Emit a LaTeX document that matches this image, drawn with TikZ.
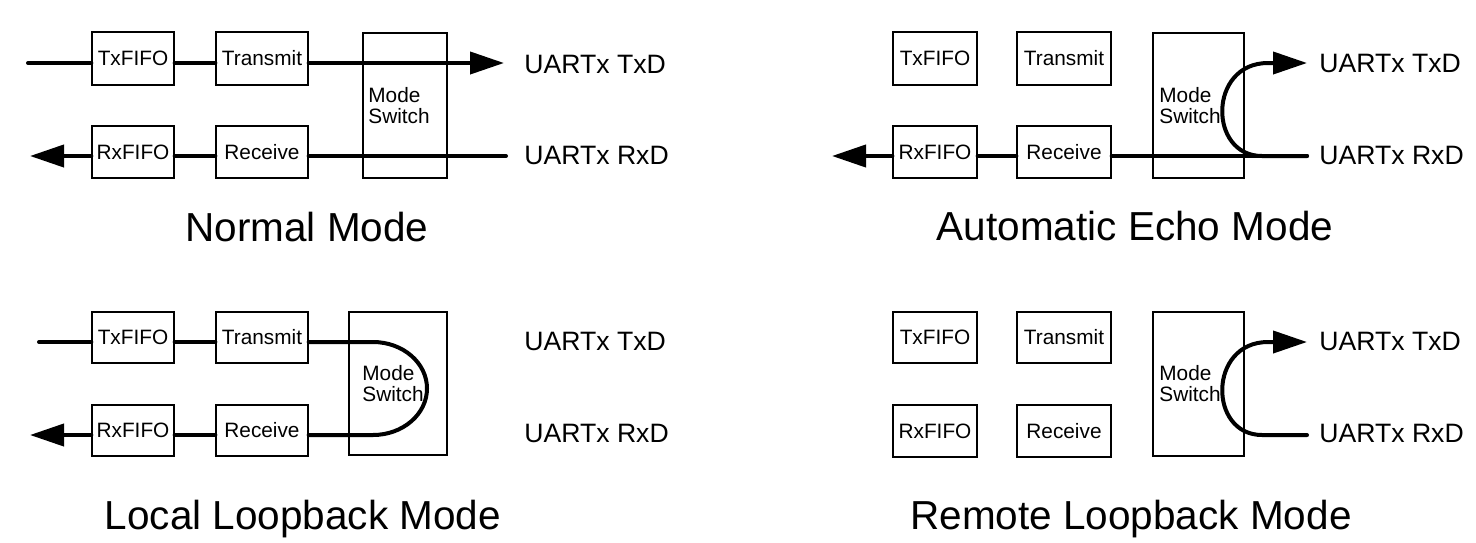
\documentclass[tikz,border=0pt]{standalone}
\usepackage{fontspec}
\setmainfont{Liberation Sans}
\usetikzlibrary{arrows.meta}
\begin{document}
\begin{tikzpicture}[x=0.5pt,y=-0.5pt,
  blk/.style={draw,line width=0.65pt,fill=white,inner sep=0pt,font=\fontsize{10.4pt}{10.5pt}\selectfont},
  msw/.style={draw,line width=0.65pt,inner sep=0pt},
  mtxt/.style={anchor=west,align=left,inner sep=0pt,font=\fontsize{10.4pt}{10.5pt}\selectfont},
  wire/.style={line width=2pt,line cap=round},
  arr/.style={-{Triangle[length=17pt,width=11pt]}},
  sig/.style={anchor=base west,inner sep=0pt,font=\fontsize{13.3pt}{15pt}\selectfont},
  ttl/.style={anchor=base,inner sep=0pt,font=\fontsize{20.25pt}{24pt}\selectfont}]
\useasboundingbox (0,0) rectangle (1476,542);

% ---------- Normal Mode ----------
\node[blk,minimum width=41pt,minimum height=26.5pt] (tf1) at (133,58.5) {TxFIFO};
\node[blk,minimum width=46pt,minimum height=26.5pt] (tm1) at (262,58.5) {Transmit};
\node[blk,minimum width=41pt,minimum height=26pt] (rf1) at (133,152) {RxFIFO};
\node[blk,minimum width=46pt,minimum height=26pt] (rc1) at (262,152) {Receive};
\node[msw,minimum width=42pt,minimum height=72.5pt] (ms1) at (405,105.5) {};
\node[mtxt] (mt1) at (368,105.5) {Mode\\Switch};
\coordinate (in1) at (28,63);
\coordinate (txd1) at (504,63);
\coordinate (rxo1) at (30,156);
\coordinate (rxd1) at (506,156);
\draw[wire] (in1) -- (in1 -| tf1.west);
\draw[wire] (in1 -| tf1.east) -- (in1 -| tm1.west);
\draw[wire,arr] (in1 -| tm1.east) -- (txd1);
\draw[wire] (rxd1) -- (rxd1 -| rc1.east);
\draw[wire] (rxd1 -| rc1.west) -- (rxd1 -| rf1.east);
\draw[wire,arr] (rxd1 -| rf1.west) -- (rxo1);
\node[sig] (lt1) at (524,73) {UARTx TxD};
\node[sig] (lr1) at (524,164) {UARTx RxD};
\node[ttl] (tt1) at (307,241.5) {Normal Mode};

% ---------- Automatic Echo Mode ----------
\node[blk,minimum width=42pt,minimum height=26.5pt] (tf2) at (935,58.5) {TxFIFO};
\node[blk,minimum width=47pt,minimum height=26.5pt] (tm2) at (1064,58.5) {Transmit};
\node[blk,minimum width=42pt,minimum height=26pt] (rf2) at (935,152) {RxFIFO};
\node[blk,minimum width=47pt,minimum height=26pt] (rc2) at (1064,152) {Receive};
\node[msw,minimum width=45.5pt,minimum height=72.5pt] (ms2) at (1198.5,105.5) {};
\node[mtxt] (mt2) at (1159,105.5) {Mode\\Switch};
\coordinate (txd2) at (1307,63);
\coordinate (rxd2) at (1307,156);
\coordinate (rxo2) at (832,156);
\draw[wire] (rxd2) -- (rxd2 -| rc2.east);
\draw[wire] (rxd2 -| rc2.west) -- (rxd2 -| rf2.east);
\draw[wire,arr] (rxd2 -| rf2.west) -- (rxo2);
\draw[wire,arr] (rxd2) -- (1262,156) .. controls (1208,156) and (1208,63) .. (1268,63) -- (txd2);
\node[sig] (lt2) at (1319,72.5) {UARTx TxD};
\node[sig] (lr2) at (1319,164.5) {UARTx RxD};
\node[ttl] (tt2) at (1135,240) {Automatic Echo Mode};

% ---------- Local Loopback Mode ----------
\node[blk,minimum width=41pt,minimum height=25.5pt] (tf3) at (133,337.5) {TxFIFO};
\node[blk,minimum width=46pt,minimum height=25.5pt] (tm3) at (262,337.5) {Transmit};
\node[blk,minimum width=41pt,minimum height=25.5pt] (rf3) at (133,430.5) {RxFIFO};
\node[blk,minimum width=46pt,minimum height=25.5pt] (rc3) at (262,430.5) {Receive};
\node[msw,minimum width=49pt,minimum height=71.5pt] (ms3) at (398,383.5) {};
\node[mtxt] (mt3) at (362,383.5) {Mode\\Switch};
\coordinate (in3) at (39,342);
\coordinate (rxo3) at (30,435);
\coordinate (lp3) at (373,342);
\draw[wire] (in3) -- (in3 -| tf3.west);
\draw[wire] (in3 -| tf3.east) -- (in3 -| tm3.west);
\draw[wire] (in3 -| tm3.east) -- (lp3) arc[start angle=90,end angle=-90,x radius=27pt,y radius=23.25pt] -- (rxo3 -| rc3.east);
\draw[wire] (rxo3 -| rc3.west) -- (rxo3 -| rf3.east);
\draw[wire,arr] (rxo3 -| rf3.west) -- (rxo3);
\node[sig] (lt3) at (524,350.5) {UARTx TxD};
\node[sig] (lr3) at (524,442.5) {UARTx RxD};
\node[ttl] (tt3) at (303,529) {Local Loopback Mode};

% ---------- Remote Loopback Mode ----------
\node[blk,minimum width=42pt,minimum height=25.5pt] (tf4) at (935,337.5) {TxFIFO};
\node[blk,minimum width=47pt,minimum height=25.5pt] (tm4) at (1064,337.5) {Transmit};
\node[blk,minimum width=42pt,minimum height=26pt] (rf4) at (935,431) {RxFIFO};
\node[blk,minimum width=47pt,minimum height=26pt] (rc4) at (1064,431) {Receive};
\node[msw,minimum width=45.5pt,minimum height=72pt] (ms4) at (1198.5,384) {};
\node[mtxt] (mt4) at (1159,384) {Mode\\Switch};
\coordinate (txd4) at (1307,342);
\coordinate (rxd4) at (1307,435);
\draw[wire,arr] (rxd4) -- (1262,435) .. controls (1208,435) and (1208,342) .. (1268,342) -- (txd4);
\node[sig] (lt4) at (1319,350.5) {UARTx TxD};
\node[sig] (lr4) at (1319,442.5) {UARTx RxD};
\node[ttl] (tt4) at (1131,529) {Remote Loopback Mode};
\end{tikzpicture}
\end{document}
